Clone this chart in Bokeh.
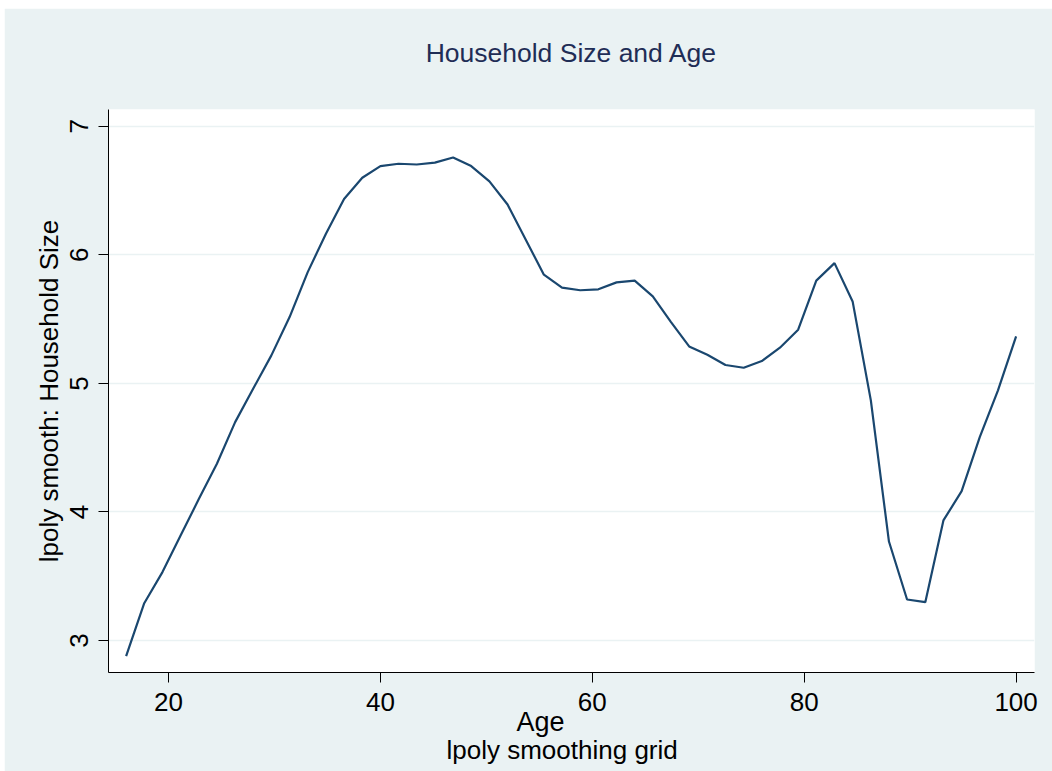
from bokeh.plotting import figure
from bokeh.models import FixedTicker, Title, Range1d
from bokeh.embed import file_html
from bokeh.resources import INLINE

# lpoly smoothing grid (Age) and smoothed household size
age = [16.00, 17.71, 19.43, 21.14, 22.86, 24.57, 26.29, 28.00, 29.71, 31.43,
       33.14, 34.86, 36.57, 38.29, 40.00, 41.71, 43.43, 45.14, 46.86, 48.57,
       50.29, 52.00, 53.71, 55.43, 57.14, 58.86, 60.57, 62.29, 64.00, 65.71,
       67.43, 69.14, 70.86, 72.57, 74.29, 76.00, 77.71, 79.43, 81.14, 82.86,
       84.57, 86.29, 88.00, 89.71, 91.43, 93.14, 94.86, 96.57, 98.29, 100.00]
hhsize = [2.878, 3.290, 3.532, 3.816, 4.100, 4.375, 4.699, 4.960, 5.218, 5.516,
          5.866, 6.165, 6.435, 6.600, 6.690, 6.709, 6.703, 6.718, 6.758, 6.691,
          6.572, 6.392, 6.120, 5.846, 5.745, 5.725, 5.732, 5.786, 5.800, 5.677,
          5.477, 5.288, 5.223, 5.143, 5.122, 5.174, 5.278, 5.418, 5.800, 5.936,
          5.638, 4.868, 3.770, 3.319, 3.298, 3.934, 4.162, 4.582, 4.946, 5.366]
x_ticks = [20, 40, 60, 80, 100]
y_ticks = [3, 4, 5, 6, 7]
title_text = "Household Size and Age"
x_title = "Age"
y_title = "lpoly smooth: Household Size"
note_text = "lpoly smoothing grid"

BG = "#EAF2F3"
FONT = "Liberation Sans"

p = figure(frame_width=926, frame_height=563,
           min_border_left=104, min_border_right=18,
           min_border_top=101, min_border_bottom=99,
           x_range=Range1d(14.337, 101.737), y_range=Range1d(2.751, 7.131),
           output_backend="svg", toolbar_location=None)
p.margin = (8, 0, 0, 4)

p.border_fill_color = BG
p.background_fill_color = "white"
p.outline_line_color = None
p.title.text = ""

# spacer between the frame and the title
spacer = Title(text=" ", text_font_size="1px", standoff=39)
p.add_layout(spacer, "above")
main_title = Title(text=title_text, align="center", text_font=FONT,
                   text_font_size="26.5px", text_font_style="normal",
                   text_color="#1F2D56", standoff=0)
p.add_layout(main_title, "above")

p.line(age, hhsize, line_color="#1A476F", line_width=2.2)

# axes
for ax in (p.xaxis[0], p.yaxis[0]):
    ax.axis_line_color = "black"
    ax.axis_line_width = 1
    ax.major_tick_line_color = "black"
    ax.major_tick_out = 10
    ax.major_tick_in = 0
    ax.minor_tick_line_color = None
    ax.major_label_text_font = FONT
    ax.major_label_text_font_size = "26px"
    ax.major_label_text_color = "black"
    ax.axis_label_text_font = FONT
    ax.axis_label_text_font_style = "normal"
    ax.axis_label_text_color = "black"

p.xaxis.ticker = FixedTicker(ticks=x_ticks)
p.yaxis.ticker = FixedTicker(ticks=y_ticks)
p.xaxis.major_label_standoff = 10
p.yaxis.axis_label = y_title
p.yaxis.axis_label_text_font_size = "26px"
p.yaxis.axis_label_standoff = 4
p.yaxis.major_label_standoff = 10
p.yaxis.major_label_orientation = "vertical"

p.xgrid.grid_line_color = None
p.ygrid.grid_line_color = BG
p.ygrid.grid_line_width = 1.5
p.ygrid.ticker = FixedTicker(ticks=y_ticks)

# x-axis title and note, placed like the original (slightly left of centre)
age_title = Title(text=x_title, align="left", offset=408, text_font=FONT,
                  text_font_size="27px", text_font_style="normal",
                  text_color="black", standoff=-18)
p.add_layout(age_title, "below")
note = Title(text=note_text, align="left", offset=338, text_font=FONT,
             text_font_size="26px", text_font_style="normal",
             text_color="black", standoff=10)
p.add_layout(note, "below")

open("out.html", "w").write(file_html(p, INLINE))
